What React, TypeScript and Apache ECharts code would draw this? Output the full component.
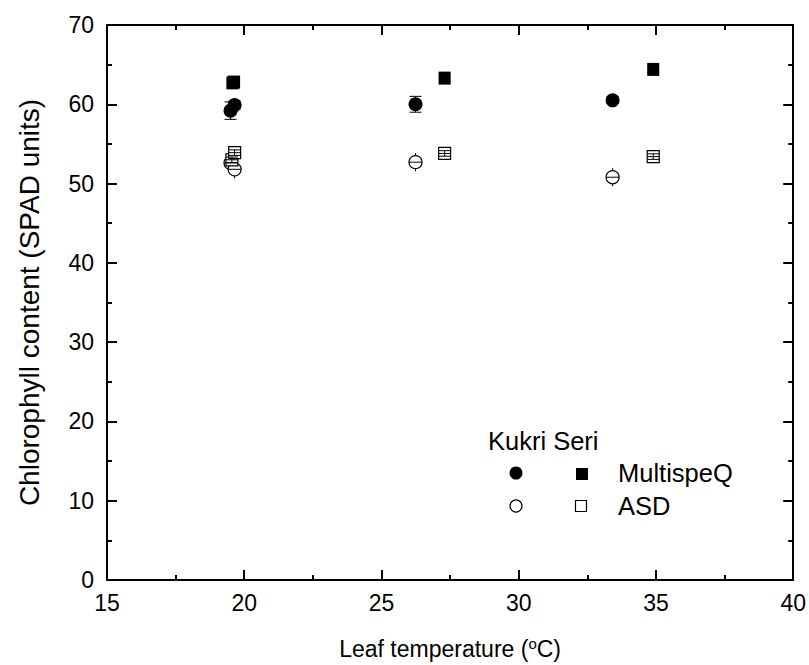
import React, { useEffect, useRef } from "react";
import * as echarts from "echarts";

// Leaf temperature (°C) and chlorophyll (SPAD units) with error
const kukriMultiTemp = [19.5, 19.65, 26.24, 33.42];
const kukriMultiVal = [59.2, 59.9, 60.0, 60.5];
const kukriMultiErr = [1.1, 0.5, 1.0, 0.4];

const seriMultiTemp = [19.57, 19.63, 27.3, 34.9];
const seriMultiVal = [62.7, 62.8, 63.3, 64.4];
const seriMultiErr = [0.4, 0.4, 0.4, 0.4];

const kukriAsdTemp = [19.5, 19.65, 26.24, 33.42];
const kukriAsdVal = [52.6, 51.8, 52.7, 50.8];
const kukriAsdErr = [1.15, 1.15, 1.15, 1.15];

const seriAsdTemp = [19.55, 19.65, 27.3, 34.9];
const seriAsdVal = [53.0, 53.9, 53.8, 53.4];
const seriAsdErr = [0.35, 0.35, 0.35, 0.35];

const xTicks = [15, 20, 25, 30, 35, 40];
const yTicks = [0, 10, 20, 30, 40, 50, 60, 70];

const FONT = "'Liberation Sans', Arial, sans-serif";

const zip = (t: number[], v: number[], e: number[]) => t.map((x, i) => [x, v[i], e[i]]);

function errSeries(data: number[][], capW: number, centerW: number, z: number, vertical = true) {
  return {
    type: "custom",
    data,
    z,
    silent: true,
    renderItem: (params: any, api: any) => {
      const x = api.value(0);
      const y = api.value(1);
      const e = api.value(2);
      const c = api.coord([x, y]);
      const top = api.coord([x, y + e]);
      const bot = api.coord([x, y - e]);
      const style = { stroke: "#000", lineWidth: 1 };
      const children: any[] = [];
      if (vertical) {
        children.push({ type: "line", shape: { x1: c[0], y1: top[1], x2: c[0], y2: bot[1] }, style });
      }
      if (capW > 0) {
        children.push({ type: "line", shape: { x1: c[0] - capW / 2, y1: top[1], x2: c[0] + capW / 2, y2: top[1] }, style });
        children.push({ type: "line", shape: { x1: c[0] - capW / 2, y1: bot[1], x2: c[0] + capW / 2, y2: bot[1] }, style });
      }
      if (centerW > 0) {
        children.push({ type: "line", shape: { x1: c[0] - centerW / 2, y1: c[1], x2: c[0] + centerW / 2, y2: c[1] }, style });
      }
      return { type: "group", children };
    },
  };
}

export default function App() {
  const ref = useRef<HTMLDivElement>(null);
  useEffect(() => {
    if (!ref.current) return;
    document.body.style.margin = "0";
    const chart = echarts.init(ref.current, null, { renderer: "svg" });
    const axisCommon = {
      axisLine: { show: true, onZero: false, lineStyle: { color: "#000", width: 2 } },
      axisTick: { show: true, inside: true, length: 10, lineStyle: { color: "#000", width: 2 } },
      minorTick: { show: true, splitNumber: 2, length: 5, lineStyle: { color: "#000", width: 2 } },
      splitLine: { show: false },
    };
    const option: any = {
      animation: false,
      backgroundColor: "#fff",
      grid: { left: 107, right: 15, top: 25, bottom: 85, containLabel: false },
      xAxis: [
        {
          type: "value",
          min: xTicks[0],
          max: xTicks[xTicks.length - 1],
          interval: 5,
          position: "bottom",
          ...axisCommon,
          axisLabel: { color: "#000", fontSize: 23, fontFamily: FONT, margin: 11 },
          name: "{a|Leaf temperature (}{s|o}{a|C)}",
          nameLocation: "middle",
          nameGap: 56,
          nameTextStyle: {
            rich: {
              a: { fontSize: 23, fontFamily: FONT, color: "#000" },
              s: { fontSize: 15, fontFamily: FONT, color: "#000", verticalAlign: "top", padding: [0, 0, 10, 0] },
            },
          },
        },
        {
          type: "value",
          min: xTicks[0],
          max: xTicks[xTicks.length - 1],
          interval: 5,
          position: "top",
          ...axisCommon,
          axisLabel: { show: false },
        },
      ],
      yAxis: [
        {
          type: "value",
          min: yTicks[0],
          max: yTicks[yTicks.length - 1],
          interval: 10,
          position: "left",
          ...axisCommon,
          axisLabel: { color: "#000", fontSize: 23, fontFamily: FONT, margin: 13 },
          name: "Chlorophyll content (SPAD units)",
          nameLocation: "middle",
          nameGap: 64,
          nameTextStyle: { fontSize: 28, fontFamily: FONT, color: "#000" },
        },
        {
          type: "value",
          min: yTicks[0],
          max: yTicks[yTicks.length - 1],
          interval: 10,
          position: "right",
          ...axisCommon,
          axisLabel: { show: false },
        },
      ],
      series: [
        errSeries(zip(kukriMultiTemp, kukriMultiVal, kukriMultiErr), 12, 0, 2),
        errSeries(zip(seriMultiTemp, seriMultiVal, seriMultiErr), 12, 0, 2),
        errSeries(zip(kukriAsdTemp, kukriAsdVal, kukriAsdErr), 0, 0, 2),
        {
          type: "scatter",
          name: "Kukri MultispeQ",
          data: zip(kukriMultiTemp, kukriMultiVal, kukriMultiErr),
          symbol: "circle",
          symbolSize: 14,
          itemStyle: { color: "#000", opacity: 1 },
          z: 3,
        },
        {
          type: "scatter",
          name: "Seri MultispeQ",
          data: zip(seriMultiTemp, seriMultiVal, seriMultiErr),
          symbol: "rect",
          symbolSize: [12, 13],
          itemStyle: { color: "#000", opacity: 1 },
          z: 3,
        },
        {
          type: "scatter",
          name: "Kukri ASD",
          data: zip(kukriAsdTemp, kukriAsdVal, kukriAsdErr),
          symbol: "circle",
          symbolSize: 13,
          itemStyle: { color: "#fff", borderColor: "#000", borderWidth: 1.2, opacity: 1 },
          z: 4,
        },
        {
          type: "scatter",
          name: "Seri ASD",
          data: zip(seriAsdTemp, seriAsdVal, seriAsdErr),
          symbol: "rect",
          symbolSize: 12,
          itemStyle: { color: "#fff", borderColor: "#000", borderWidth: 1.2, opacity: 1 },
          z: 4,
        },
        errSeries(zip(kukriAsdTemp, kukriAsdVal, kukriAsdErr), 0, 13, 5, false),
        errSeries(zip(seriAsdTemp, seriAsdVal, seriAsdErr), 12, 12, 5),
      ],
      graphic: [
        { type: "text", left: 488, top: 428, style: { text: "Kukri Seri", fontSize: 25.5, fontFamily: FONT, fill: "#000" } },
        { type: "circle", shape: { cx: 516, cy: 473, r: 6.5 }, style: { fill: "#000" } },
        { type: "rect", shape: { x: 576, y: 468, width: 12, height: 12 }, style: { fill: "#000" } },
        { type: "text", left: 618, top: 460, style: { text: "MultispeQ", fontSize: 25.5, fontFamily: FONT, fill: "#000" } },
        { type: "circle", shape: { cx: 516, cy: 506, r: 6 }, style: { fill: "#fff", stroke: "#000", lineWidth: 1.2 } },
        { type: "rect", shape: { x: 575.5, y: 500.5, width: 11, height: 11 }, style: { fill: "#fff", stroke: "#000", lineWidth: 1.2 } },
        { type: "text", left: 618, top: 493, style: { text: "ASD", fontSize: 25.5, fontFamily: FONT, fill: "#000" } },
      ],
    };
    chart.setOption(option);
    return () => chart.dispose();
  }, []);
  return <div ref={ref} style={{ position: "absolute", left: 0, top: 0, width: 809, height: 665 }} />;
}
